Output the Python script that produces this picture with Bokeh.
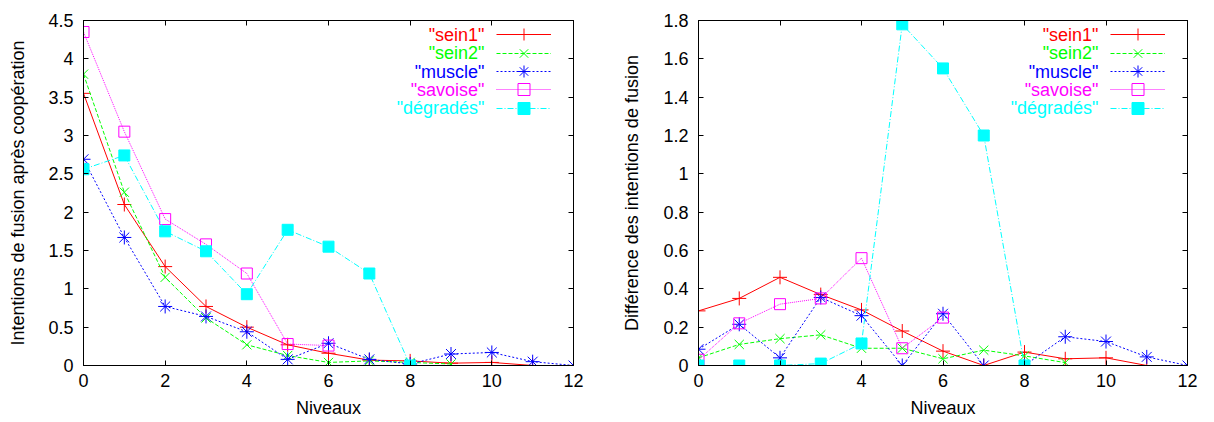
from bokeh.plotting import figure
from bokeh.layouts import row
from bokeh.models import LinearAxis, FixedTicker, Legend, LegendItem, Label, Range1d
from bokeh.embed import file_html
from bokeh.resources import INLINE

# ---------------- data ----------------
x_label = "Niveaux"
left_y_label = "Intentions de fusion après coopération"
right_y_label = "Différence des intentions de fusion"

x_ticks = [0, 2, 4, 6, 8, 10, 12]
x_tick_labels = ["0", "2", "4", "6", "8", "10", "12"]
left_y_ticks = [0, 0.5, 1, 1.5, 2, 2.5, 3, 3.5, 4, 4.5]
left_y_tick_labels = ["0", "0.5", "1", "1.5", "2", "2.5", "3", "3.5", "4", "4.5"]
right_y_ticks = [0, 0.2, 0.4, 0.6, 0.8, 1, 1.2, 1.4, 1.6, 1.8]
right_y_tick_labels = ["0", "0.2", "0.4", "0.6", "0.8", "1", "1.2", "1.4", "1.6", "1.8"]

series_names = ['"sein1"', '"sein2"', '"muscle"', '"savoise"', '"dégradés"']

# left panel: intentions after cooperation (one value per level, starting at level 0)
sein1_left = [3.55, 2.10, 1.29, 0.77, 0.50, 0.27, 0.16, 0.07, 0.06, 0.03, 0.04, 0.0]
sein2_left = [3.80, 2.26, 1.15, 0.62, 0.27, 0.13, 0.04, 0.06, 0.04, 0.02]
muscle_left = [2.69, 1.67, 0.77, 0.64, 0.44, 0.08, 0.29, 0.08, 0.02, 0.15, 0.17, 0.05, 0.0]
savoise_left = [4.35, 3.05, 1.91, 1.58, 1.20, 0.28, 0.26]
degrades_left = [2.56, 2.74, 1.75, 1.49, 0.93, 1.77, 1.55, 1.20, 0.0]

# right panel: difference of intentions
sein1_right = [0.285, 0.35, 0.46, 0.37, 0.29, 0.18, 0.075, 0.0, 0.07, 0.035, 0.04, 0.0]
sein2_right = [0.04, 0.11, 0.14, 0.16, 0.09, 0.09, 0.035, 0.08, 0.05, 0.015]
muscle_right = [0.085, 0.215, 0.04, 0.355, 0.26, 0.0, 0.27, 0.0, 0.0, 0.15, 0.125, 0.045, 0.0]
savoise_right = [0.03, 0.22, 0.32, 0.35, 0.56, 0.09, 0.25]
degrades_right = [0.0, 0.0, 0.0, 0.01, 0.115, 1.78, 1.55, 1.20, 0.0]

# ---------------- styles ----------------
FONT = "Liberation Sans"
FS = "18px"
HEIGHT = 422
TOP = 20
BOTTOM = 57
styles = [
    dict(color="#ff0000", dash="solid", marker="cross", size=14, fill=False),
    dict(color="#00ff00", dash="4 2", marker="x", size=13, fill=False),
    dict(color="#0000ff", dash="2 2", marker="asterisk", size=14, fill=False),
    dict(color="#ff00ff", dash="1 1", marker="square", size=11, fill=False),
    dict(color="#00ffff", dash="6 2 1 2", marker="square", size=11, fill=True),
]


def make_panel(ylabel, yticks, ylabels, ymax, series, width, border_left, border_right,
               label_standoff):
    p = figure(width=width, height=HEIGHT, output_backend="svg", toolbar_location=None,
               x_range=Range1d(0, 12), y_range=Range1d(0, ymax),
               min_border_left=border_left, min_border_right=border_right,
               min_border_top=TOP, min_border_bottom=BOTTOM,
               x_axis_location=None, y_axis_location=None)
    p.grid.visible = False
    p.outline_line_color = "black"
    p.background_fill_color = "white"
    p.border_fill_color = "white"

    x_over = {t: l for t, l in zip(x_ticks, x_tick_labels)}
    y_over = {t: l for t, l in zip(yticks, ylabels)}

    def axis(ticks, overrides, show_labels, label=None, lstandoff=0, tstandoff=0):
        ax = LinearAxis(ticker=FixedTicker(ticks=ticks), major_label_overrides=overrides)
        ax.major_tick_in = 5
        ax.major_tick_out = 0
        ax.minor_tick_line_color = None
        ax.axis_line_color = "black"
        ax.major_tick_line_color = "black"
        ax.major_label_text_font = FONT
        if show_labels:
            ax.major_label_text_color = "black"
            ax.major_label_text_font_size = FS
            ax.major_label_standoff = tstandoff
            ax.axis_label = label
            ax.axis_label_text_font = FONT
            ax.axis_label_text_font_size = FS
            ax.axis_label_text_font_style = "normal"
            ax.axis_label_text_color = "black"
            ax.axis_label_standoff = lstandoff
        else:
            ax.major_label_text_color = None
            ax.major_label_text_font_size = "1px"
            ax.major_label_standoff = 0
        return ax

    p.add_layout(axis(x_ticks, x_over, True, x_label, 8, 8), "below")
    p.add_layout(axis(yticks, y_over, True, ylabel, label_standoff, 10), "left")
    p.add_layout(axis(x_ticks, x_over, False), "above")
    p.add_layout(axis(yticks, y_over, False), "right")

    fw = width - border_left - border_right
    fh = HEIGHT - TOP - BOTTOM
    gh = 30          # tall glyph box so the legend markers are drawn full size
    first_row, pitch = 14.3, 18.35

    for i, (vals, st, name) in enumerate(zip(series, styles, series_names)):
        xs = list(range(len(vals)))
        lr = p.line(xs, vals, line_color=st["color"], line_width=1, line_dash=st["dash"])
        if st["fill"]:
            mr = p.scatter(xs, vals, marker=st["marker"], size=st["size"],
                           line_color=st["color"], fill_color=st["color"], line_width=1)
        else:
            mr = p.scatter(xs, vals, marker=st["marker"], size=st["size"],
                           line_color=st["color"], fill_color=None, line_width=1)

        center = first_row + pitch * i
        legend = Legend(items=[LegendItem(label=" ", renderers=[lr, mr])],
                        location=(fw - 22 - 55, round(fh - center - gh / 2)),
                        glyph_width=55, glyph_height=gh, label_width=0, label_height=0,
                        label_standoff=0, label_text_font_size="1px",
                        label_text_color=None, spacing=0, padding=0, margin=0,
                        border_line_alpha=0, background_fill_alpha=0)
        p.add_layout(legend, "center")
        p.add_layout(Label(x=fw - 89, y=fh - center, x_units="screen", y_units="screen",
                           text=name, text_align="right", text_baseline="middle",
                           text_font=FONT, text_font_size=FS, text_color=st["color"]))
    return p


left = make_panel(left_y_label, left_y_ticks, left_y_tick_labels, 4.5,
                  [sein1_left, sein2_left, muscle_left, savoise_left, degrades_left],
                  610, 83, 37, 17)
right = make_panel(right_y_label, right_y_ticks, right_y_tick_labels, 1.8,
                   [sein1_right, sein2_right, muscle_right, savoise_right, degrades_right],
                   604, 88, 27, 18)

layout = row(left, right)
open("out.html", "w").write(file_html(layout, INLINE))
